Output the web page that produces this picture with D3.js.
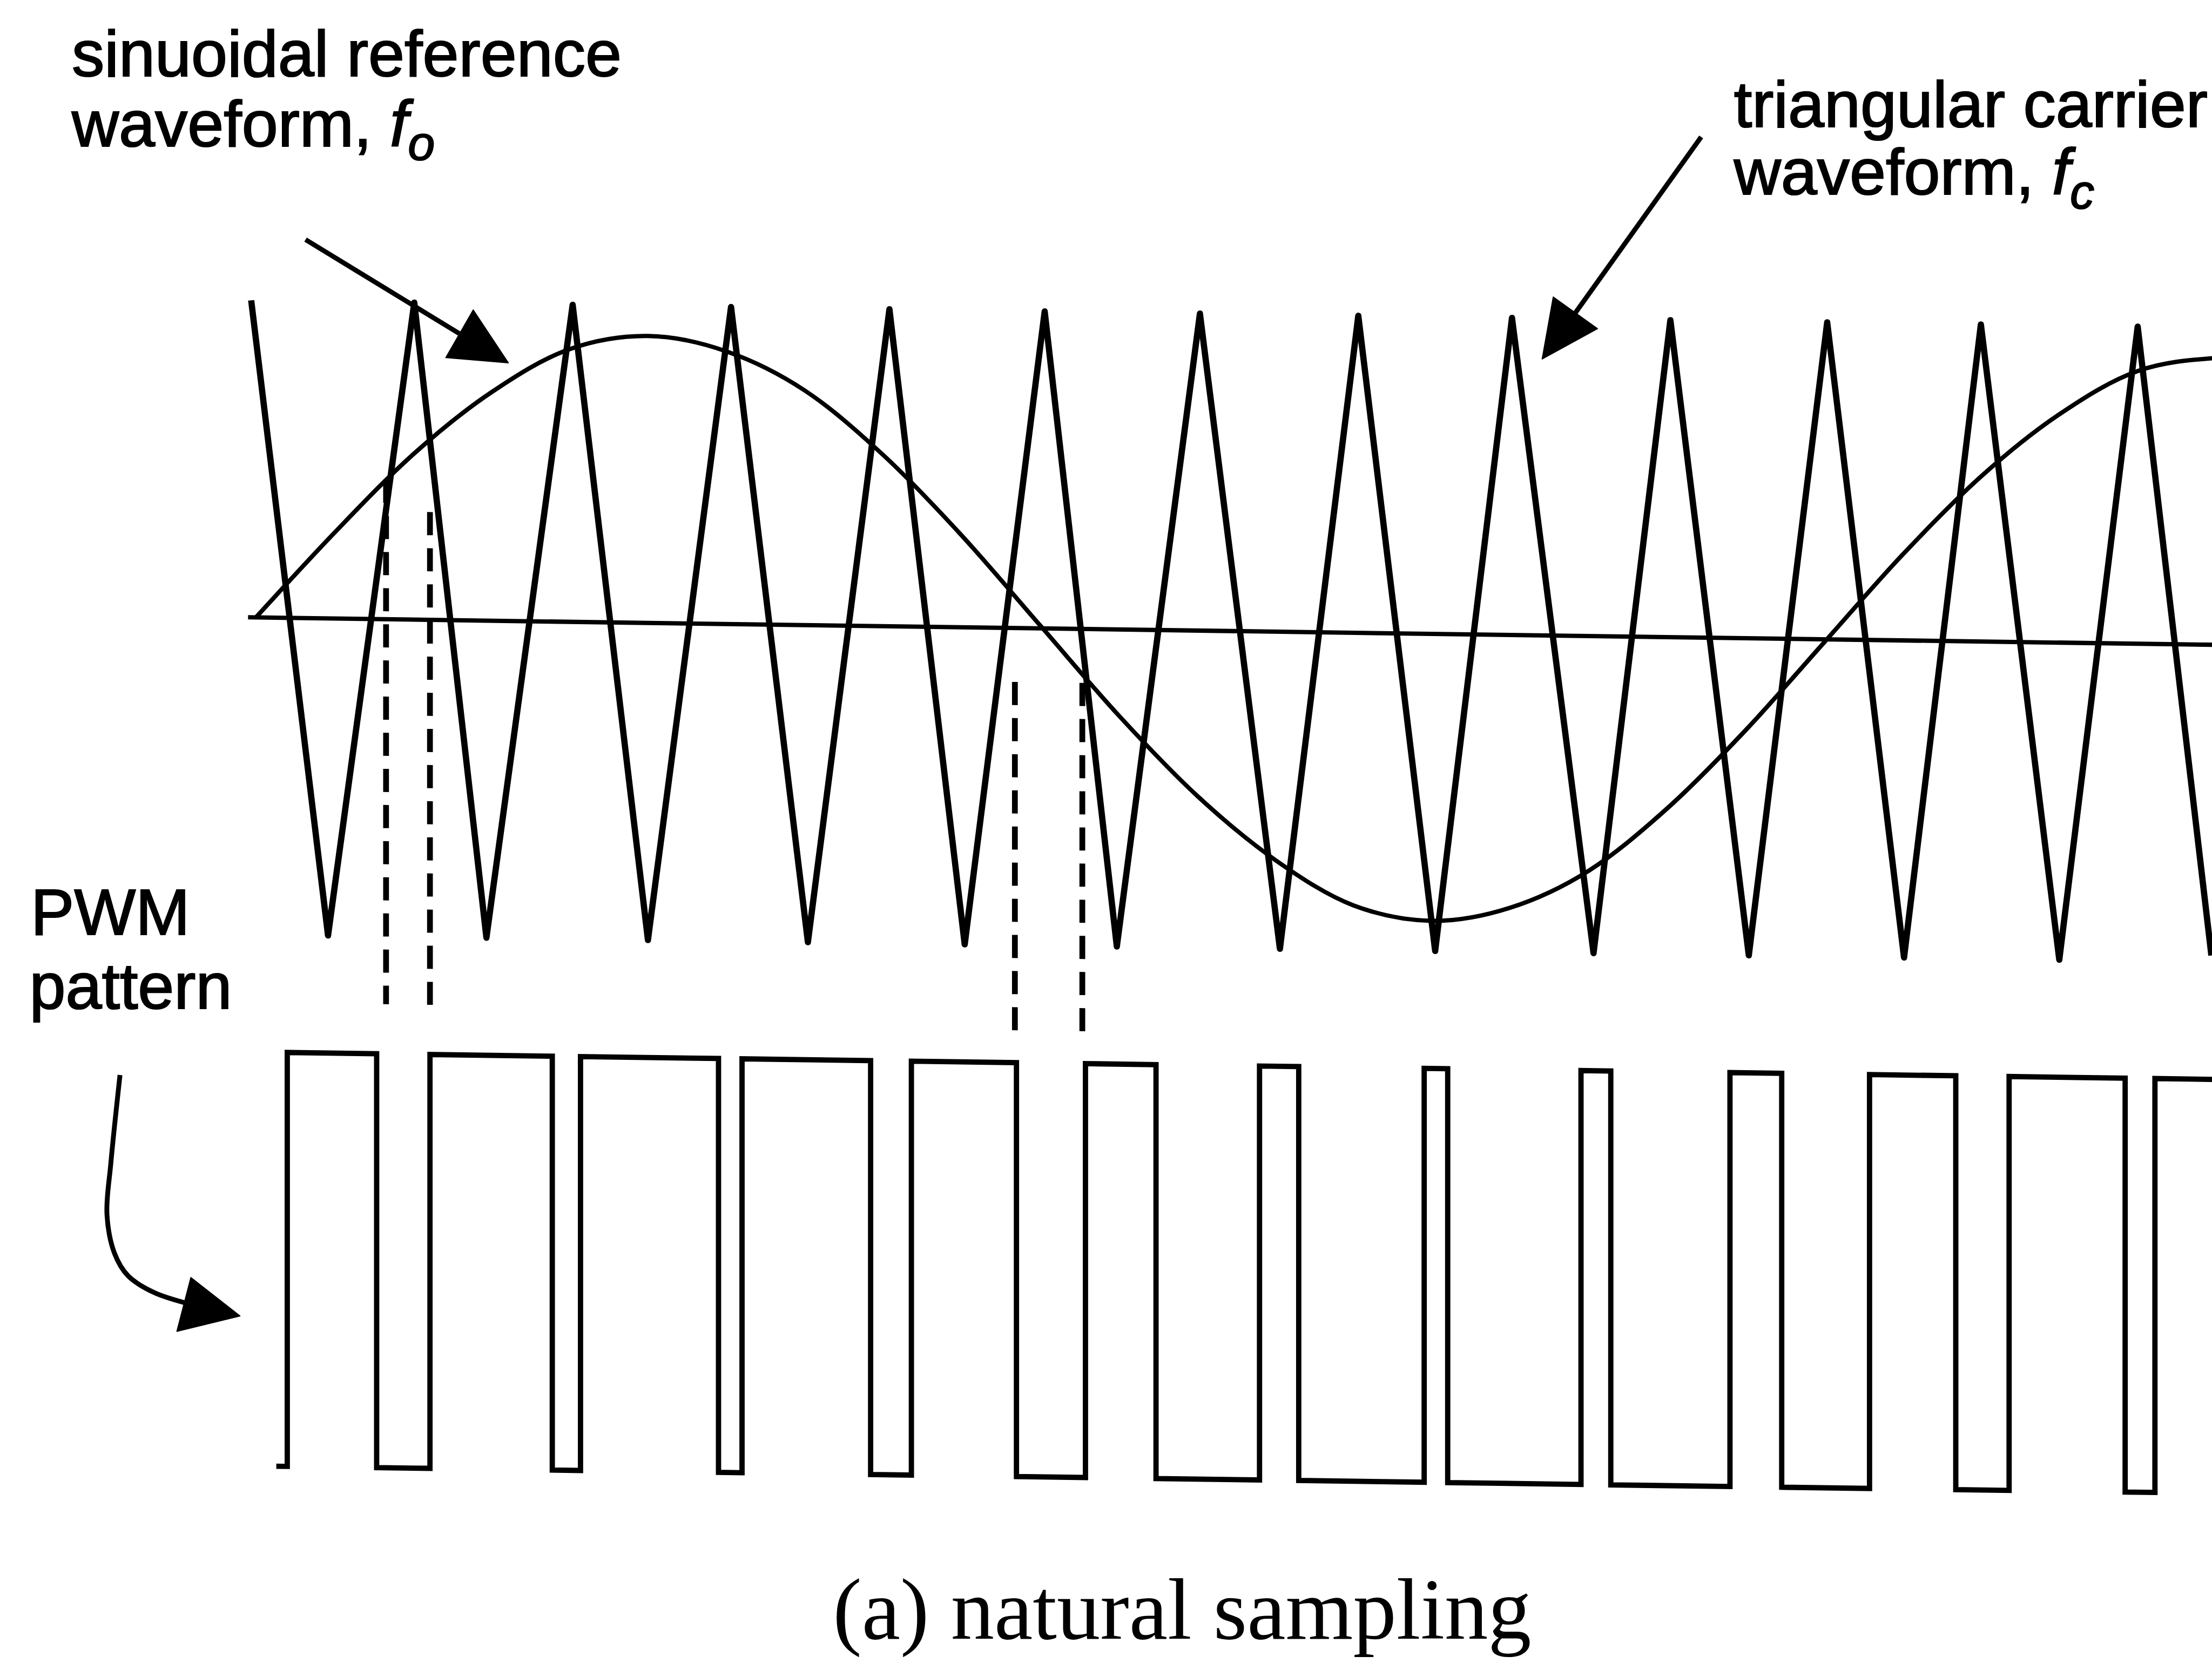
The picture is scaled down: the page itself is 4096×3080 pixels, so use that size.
<!DOCTYPE html>
<html>
<head>
<meta charset="utf-8">
<script src="https://cdn.jsdelivr.net/npm/d3@7"></script>
<style>
  html, body { margin: 0; padding: 0; background: #fff; }
  svg { display: block; }
</style>
</head>
<body>
<div id="container"></div>
<script>
// time is in carrier periods, levels in carrier amplitudes

// triangular carrier: vertex times and levels
const carrierT = [-0.03, 0.46, 1.01, 1.47, 2.02, 2.50, 3.03, 3.52, 4.04, 4.52, 5.03, 5.49, 6.02,
  6.53, 7.03, 7.52, 8.01, 8.53, 9.02, 9.52, 10.02, 10.51, 11.00, 11.50, 12.00, 12.47];
const carrierV = [1, -1, 1, -1, 1, -1, 1, -1, 1, -1, 1, -1, 1,
  -1, 1, -1, 1, -1, 1, -1, 1, -1, 1, -1, 1, -0.98];

// sinusoidal reference read every half carrier period
const sineT = [0, 0.5, 1, 1.5, 2, 2.5, 3, 3.5, 4, 4.5, 5, 5.5, 6, 6.5, 7, 7.5, 8, 8.5, 9, 9.5,
  10, 10.5, 11, 11.5, 12, 12.5];
const sineV = [0, 0.27, 0.52, 0.72, 0.86, 0.905, 0.86, 0.74, 0.54, 0.29, 0.01, -0.27, -0.52, -0.72,
  -0.86, -0.905, -0.86, -0.74, -0.54, -0.29, -0.01, 0.27, 0.52, 0.72, 0.86, 0.905];

// zero line extent
const axisT = [-0.05, 12.6];

// PWM pattern: switching times and the level after each one
const pwmT = [0.13, 0.20, 0.77, 1.11, 1.89, 2.07, 2.95, 3.10, 3.92, 4.18, 4.85, 5.29, 5.74, 6.40,
  6.65, 7.45, 7.60, 8.45, 8.64, 9.40, 9.73, 10.29, 10.84, 11.18, 11.92, 12.11, 12.55];
const pwmLevel = [0, 1, 0, 1, 0, 1, 0, 1, 0, 1, 0, 1, 0, 1,
  0, 1, 0, 1, 0, 1, 0, 1, 0, 1, 0, 1, 1];

// dashed projection lines: time, top (carrier units), bottom (PWM units)
const dashT = [0.83, 1.11, 4.84, 5.27];
const dashTop = [0.44, 0.34, -0.17, -0.17];
const dashBottom = [1.12, 1.12, 1.07, 1.07];

// ---- layout
const W = 4590, H = 3451;
const svg = d3.select('#container')
  .append('svg')
  .attr('width', 4096)
  .attr('height', 3080)
  .attr('viewBox', `0 0 ${W} ${H}`);

svg.append('rect').attr('width', W).attr('height', H).attr('fill', '#fff');

// the scanned drawing runs slightly downhill to the right
const plot = svg.append('g').attr('transform', 'translate(514,1281) skewY(0.8)');

const xScale = d3.scaleLinear().domain([0, 12.5]).range([17, 17 + 12.5 * 325.4]);
const yScale = d3.scaleLinear().domain([-1, 1]).range([658, -658]);
const pwmY = d3.scaleLinear().domain([0, 1]).range([1761, 902]);

// zero line
plot.append('path')
  .datum(axisT)
  .attr('fill', 'none')
  .attr('stroke', '#000')
  .attr('stroke-width', 9)
  .attr('d', d3.line().x((d) => xScale(d)).y(() => yScale(0)));

// carrier
plot.append('path')
  .datum(carrierT.map((t, i) => [t, carrierV[i]]))
  .attr('fill', 'none')
  .attr('stroke', '#000')
  .attr('stroke-width', 13)
  .attr('stroke-linejoin', 'round')
  .attr('d', d3.line().x((d) => xScale(d[0])).y((d) => yScale(d[1])));

// reference
plot.append('path')
  .datum(sineT.map((t, i) => [t, sineV[i]]))
  .attr('fill', 'none')
  .attr('stroke', '#000')
  .attr('stroke-width', 9)
  .attr('d', d3.line().x((d) => xScale(d[0])).y((d) => yScale(d[1])).curve(d3.curveMonotoneX));

// dashed lines
plot.selectAll('.dash')
  .data(dashT)
  .enter()
  .append('line')
  .attr('class', 'dash')
  .attr('x1', (d) => xScale(d))
  .attr('x2', (d) => xScale(d))
  .attr('y1', (d, i) => yScale(dashTop[i]))
  .attr('y2', (d, i) => pwmY(dashBottom[i]))
  .attr('stroke', '#000')
  .attr('stroke-width', 12)
  .attr('stroke-dasharray', '48 27');

// PWM pattern
plot.append('path')
  .datum(pwmT.map((t, i) => [t, pwmLevel[i]]))
  .attr('fill', 'none')
  .attr('stroke', '#000')
  .attr('stroke-width', 11)
  .attr('d', d3.line().x((d) => xScale(d[0])).y((d) => pwmY(d[1])).curve(d3.curveStepAfter));

// ---- annotations
const ann = svg.append('g').attr('stroke', '#000').attr('fill', '#000');

const arrow = (pts, head, curve) => {
  ann.append('path')
    .datum(pts)
    .attr('fill', 'none')
    .attr('stroke-width', 10)
    .attr('d', d3.line().curve(curve || d3.curveLinear));
  ann.append('path')
    .datum(head)
    .attr('stroke-width', 2)
    .attr('stroke-linejoin', 'round')
    .attr('d', (d) => d3.line()(d) + 'Z');
};

arrow([[634, 497], [953, 692]], [[982, 643], [925, 742], [1055, 753]]);
arrow([[3530, 284], [3269, 649]], [[3315, 682], [3223, 616], [3200, 745]]);
arrow(
  [[249, 2231], [230, 2414], [222, 2521], [238, 2602], [266, 2648], [319, 2682], [385, 2704]],
  [[396, 2651], [367, 2763], [498, 2731]],
  d3.curveCatmullRom
);

const sans = '"Liberation Sans", Arial, Helvetica, sans-serif';
const label = svg.append('g')
  .attr('font-family', sans)
  .attr('font-size', 135)
  .attr('fill', '#000')
  .attr('stroke', '#000')
  .attr('stroke-width', 2.5);

label.append('text').attr('x', 149).attr('y', 158).text('sinuoidal reference');
const l2 = label.append('text').attr('x', 149).attr('y', 303);
l2.append('tspan').text('waveform, ');
l2.append('tspan').attr('font-style', 'italic').text('f');
l2.append('tspan').attr('font-style', 'italic').attr('font-size', 100).attr('dy', 29).text('o');

label.append('text').attr('x', 3598).attr('y', 263).text('triangular carrier');
const l4 = label.append('text').attr('x', 3598).attr('y', 403);
l4.append('tspan').text('waveform, ');
l4.append('tspan').attr('font-style', 'italic').text('f');
l4.append('tspan').attr('font-style', 'italic').attr('font-size', 100).attr('dy', 29).text('c');

label.append('text').attr('x', 64).attr('y', 1939).text('PWM');
label.append('text').attr('x', 61).attr('y', 2093).text('pattern');

svg.append('text')
  .attr('x', 2453)
  .attr('y', 3401)
  .attr('text-anchor', 'middle')
  .attr('font-family', '"Liberation Serif", "Times New Roman", serif')
  .attr('font-size', 180)
  .attr('fill', '#000')
  .text('(a) natural sampling');
</script>
</body>
</html>
